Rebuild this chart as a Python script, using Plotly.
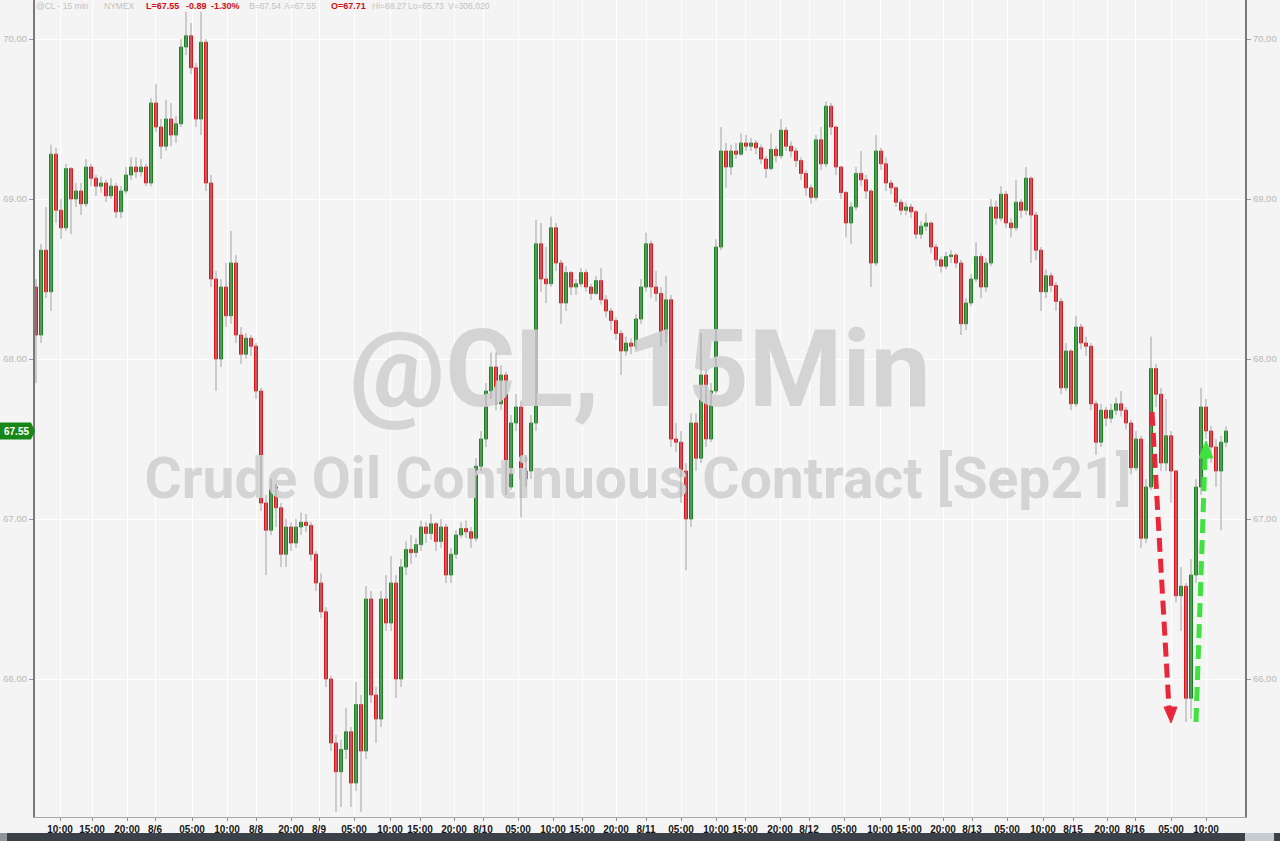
import plotly.graph_objects as go

# ---------------- data ----------------
first_open = 68.45
closes = [68.15, 68.68, 68.42, 69.28, 68.93, 68.82, 69.19, 69.00, 69.05, 68.97,
          69.20, 69.13, 69.08, 69.10, 69.02, 69.08, 68.92, 69.05, 69.15, 69.20,
          69.17, 69.20, 69.10, 69.60, 69.45, 69.33, 69.50, 69.40, 69.47, 69.95,
          70.02, 69.82, 69.50, 69.98, 69.10, 68.50, 68.00, 68.45, 68.27, 68.60,
          68.15, 68.03, 68.13, 68.08, 67.80, 67.10, 66.93, 67.20, 67.07, 66.78,
          66.95, 66.85, 66.95, 66.98, 66.96, 66.78, 66.60, 66.42, 66.00, 65.60,
          65.42, 65.56, 65.67, 65.35, 65.84, 65.55, 66.50, 65.90, 65.75, 66.50,
          66.35, 66.60, 66.00, 66.70, 66.81, 66.79, 66.84, 66.95, 66.91, 66.97,
          66.86, 66.95, 66.65, 66.78, 66.90, 66.94, 66.92, 66.88, 67.33, 67.50,
          67.80, 67.95, 67.72, 67.90, 67.20, 67.60, 67.70, 67.25, 67.30, 67.60,
          68.72, 68.50, 68.47, 68.82, 68.60, 68.35, 68.54, 68.45, 68.47, 68.54,
          68.45, 68.41, 68.49, 68.37, 68.30, 68.24, 68.16, 68.05, 68.10, 68.08,
          68.25, 68.45, 68.72, 68.45, 68.41, 68.15, 68.37, 67.50, 67.48, 67.30,
          67.00, 67.60, 67.38, 67.90, 67.50, 67.80, 68.70, 69.30, 69.20, 69.30,
          69.28, 69.35, 69.33, 69.35, 69.32, 69.25, 69.19, 69.31, 69.27, 69.43,
          69.33, 69.30, 69.24, 69.16, 69.07, 69.01, 69.37, 69.22, 69.58, 69.45,
          69.20, 69.04, 68.85, 68.95, 69.16, 69.12, 69.05, 68.60, 69.30, 69.22,
          69.10, 69.07, 68.98, 68.93, 68.95, 68.92, 68.78, 68.83, 68.85, 68.70,
          68.62, 68.58, 68.64, 68.65, 68.60, 68.22, 68.35, 68.50, 68.64, 68.45,
          68.60, 68.95, 68.88, 69.03, 68.85, 68.82, 68.98, 68.93, 69.13, 68.90,
          68.68, 68.42, 68.52, 68.46, 68.36, 67.82, 68.05, 67.72, 68.20, 68.10,
          68.08, 67.72, 67.48, 67.68, 67.63, 67.68, 67.72, 67.68, 67.60, 67.32,
          67.50, 66.88, 67.20, 67.94, 67.78, 67.35, 67.52, 67.30, 66.52, 66.58,
          65.88, 66.65, 67.20, 67.70, 67.55, 67.45, 67.30, 67.48, 67.55]
highs = [68.50, 68.72, 68.95, 69.34, 69.32, 69.00, 69.22, 69.20, 69.10, 69.10,
         69.25, 69.22, 69.15, 69.14, 69.12, 69.13, 69.10, 69.08, 69.20, 69.26,
         69.26, 69.25, 69.22, 69.63, 69.72, 69.50, 69.62, 69.60, 69.52, 70.00,
         70.17, 70.10, 69.85, 70.17, 70.00, 69.15, 68.55, 68.50, 68.60, 68.80,
         68.65, 68.20, 68.16, 68.15, 68.10, 67.82, 67.15, 67.25, 67.22, 67.10,
         67.00, 66.98, 67.00, 67.04, 67.03, 66.98, 66.80, 66.66, 66.45, 66.02,
         65.65, 65.62, 65.82, 65.70, 65.98, 65.90, 66.58, 66.55, 65.95, 66.55,
         66.65, 66.77, 66.65, 66.75, 66.86, 66.90, 66.88, 66.99, 66.98, 67.03,
         66.98, 67.00, 66.97, 66.82, 66.93, 66.98, 66.99, 66.95, 67.38, 67.55,
         67.85, 68.04, 68.04, 67.96, 67.92, 67.65, 67.78, 67.74, 67.40, 67.65,
         68.87, 68.85, 68.70, 68.89, 68.85, 68.62, 68.58, 68.55, 68.50, 68.57,
         68.56, 68.47, 68.52, 68.57, 68.40, 68.32, 68.26, 68.18, 68.14, 68.13,
         68.28, 68.50, 68.79, 68.74, 68.55, 68.45, 68.52, 68.40, 67.60, 67.55,
         67.35, 67.66, 67.66, 68.16, 67.93, 67.85, 68.75, 69.45, 69.35, 69.34,
         69.35, 69.41, 69.40, 69.38, 69.37, 69.34, 69.27, 69.41, 69.33, 69.50,
         69.45, 69.36, 69.32, 69.26, 69.18, 69.09, 69.40, 69.45, 69.61, 69.60,
         69.45, 69.20, 69.05, 68.98, 69.20, 69.30, 69.15, 69.06, 69.40, 69.32,
         69.26, 69.12, 69.08, 69.00, 68.98, 68.97, 68.93, 68.86, 68.91, 68.86,
         68.72, 68.64, 68.67, 68.68, 68.66, 68.62, 68.38, 68.53, 68.73, 68.66,
         68.63, 69.00, 68.99, 69.08, 69.05, 68.88, 69.12, 69.00, 69.20, 69.14,
         68.92, 68.70, 68.56, 68.54, 68.48, 68.38, 68.10, 68.06, 68.27, 68.22,
         68.14, 68.10, 67.74, 67.72, 67.70, 67.72, 67.76, 67.80, 67.70, 67.62,
         67.55, 67.52, 67.25, 68.14, 67.97, 67.82, 67.75, 67.55, 67.30, 66.70,
         66.60, 66.75, 67.25, 67.82, 67.75, 67.58, 67.50, 67.52, 67.58]
lows = [67.85, 68.10, 68.38, 68.30, 68.85, 68.75, 68.80, 68.78, 68.95, 68.90,
        68.95, 69.08, 69.02, 69.04, 68.98, 69.00, 68.88, 68.88, 69.03, 69.12,
        69.13, 69.14, 69.08, 69.08, 69.42, 69.25, 69.30, 69.33, 69.35, 69.45,
        69.90, 69.78, 69.45, 69.40, 69.05, 68.45, 67.80, 67.95, 68.20, 68.22,
        68.10, 67.97, 68.00, 68.02, 67.75, 67.05, 66.65, 66.90, 66.95, 66.70,
        66.70, 66.80, 66.82, 66.90, 66.92, 66.74, 66.55, 66.38, 65.95, 65.55,
        65.17, 65.20, 65.50, 65.20, 65.30, 65.17, 65.50, 65.85, 65.60, 65.70,
        66.30, 66.30, 65.88, 65.95, 66.65, 66.72, 66.76, 66.80, 66.85, 66.87,
        66.80, 66.82, 66.60, 66.60, 66.75, 66.88, 66.88, 66.82, 66.86, 67.30,
        67.45, 67.75, 67.68, 67.68, 67.15, 67.18, 67.55, 67.01, 67.20, 67.25,
        67.55, 68.42, 68.35, 68.45, 68.55, 68.22, 68.30, 68.40, 68.40, 68.45,
        68.42, 68.37, 68.40, 68.34, 68.26, 68.18, 68.12, 67.90, 68.02, 68.03,
        68.06, 68.22, 68.42, 68.38, 68.36, 68.08, 68.10, 67.45, 67.42, 67.10,
        66.68, 66.95, 67.30, 67.35, 67.45, 67.48, 67.78, 68.68, 69.07, 69.15,
        69.25, 69.27, 69.30, 69.30, 69.28, 69.22, 69.13, 69.18, 69.23, 69.25,
        69.30, 69.26, 69.20, 69.12, 69.02, 68.97, 68.99, 69.18, 69.20, 69.40,
        69.15, 69.00, 68.76, 68.72, 68.93, 69.08, 69.00, 68.45, 68.58, 69.18,
        69.05, 69.03, 68.95, 68.90, 68.90, 68.88, 68.75, 68.75, 68.80, 68.66,
        68.58, 68.54, 68.56, 68.60, 68.57, 68.15, 68.18, 68.33, 68.48, 68.38,
        68.42, 68.58, 68.84, 68.86, 68.82, 68.76, 68.80, 68.88, 68.90, 68.60,
        68.62, 68.30, 68.38, 68.42, 68.30, 67.78, 67.80, 67.68, 67.70, 68.06,
        68.02, 67.68, 67.40, 67.45, 67.58, 67.60, 67.65, 67.64, 67.56, 67.28,
        67.30, 66.82, 66.85, 67.18, 67.70, 67.30, 67.30, 67.10, 66.48, 66.30,
        65.73, 65.75, 66.60, 67.15, 67.50, 67.35, 67.20, 66.93, 67.45]

tick_labels = ["10:00", "15:00", "20:00", "8/6", "05:00", "10:00", "8/8", "20:00",
               "8/9", "05:00", "10:00", "15:00", "20:00", "8/10", "05:00", "10:00",
               "15:00", "20:00", "8/11", "05:00", "10:00", "15:00", "20:00", "8/12",
               "05:00", "10:00", "15:00", "20:00", "8/13", "05:00", "10:00", "8/15",
               "20:00", "8/16", "05:00", "10:00"]
price_ticks = [66, 67, 68, 69, 70]
header_parts = ["@CL - 15 min", "NYMEX", "L=67.55", "-0.89", "-1.30%", "B=67.54",
                "A=67.55", "O=67.71", "Hi=68.27", "Lo=65.73", "V=306,020"]

# ---------------- layout helpers ----------------
W, H = 1280, 841
L, R, T, B = 35, 35, 0, 24
PW, PH = W - L - R, H - T - B


def px_to_idx(px):
    return (px - 36) / 5.0


def py_to_price(py):
    return 70 - (py - 39) / 160.0


def px_paper(px):
    return (px - L) / PW


def py_paper(py):
    return (H - B - py) / PH


tick_px = [60, 92, 127, 155, 192, 227, 256, 291, 319, 354, 390, 420, 454, 483, 518,
           553, 582, 616, 646, 681, 716, 745, 780, 809, 844, 880, 909, 943, 972,
           1007, 1043, 1073, 1107, 1135, 1171, 1206]
tick_vals = [px_to_idx(p) for p in tick_px]

n = len(closes)
xs = list(range(n))
opens = [first_open] + closes[:-1]
body_hi = [max(o, c) for o, c in zip(opens, closes)]
body_lo = [min(o, c) for o, c in zip(opens, closes)]

wx, wy = [], []
for i in range(n):
    wx += [i, i, None]
    wy += [min(lows[i], body_lo[i]), max(highs[i], body_hi[i]), None]

BG = "#f4f4f4"
RED = "#e1121a"
GREEN = "#14861a"
WM = "#d4d4d4"
FONT = "Liberation Sans, Arial, sans-serif"

fig = go.Figure()

# watermark (drawn first, beneath the candles)
fig.add_trace(go.Scatter(
    x=[px_to_idx(640)], y=[py_to_price(379)], mode="text",
    text=["@CL, 15Min"], textposition="middle center",
    textfont=dict(family="Roboto, Open Sans, sans-serif", size=107, color=WM, weight="bold"),
    hoverinfo="skip", showlegend=False))
fig.add_trace(go.Scatter(
    x=[px_to_idx(638)], y=[py_to_price(484)], mode="text",
    text=["Crude Oil Continuous Contract [Sep21]"], textposition="middle center",
    textfont=dict(family="Roboto, Open Sans, sans-serif", size=57, color=WM, weight="bold"),
    hoverinfo="skip", showlegend=False))

# wicks
fig.add_trace(go.Scatter(x=wx, y=wy, mode="lines",
                         line=dict(color="#a2a2a2", width=1),
                         hoverinfo="skip", showlegend=False))

# bodies
fig.add_trace(go.Candlestick(
    x=xs, open=opens, high=body_hi, low=body_lo, close=closes,
    increasing=dict(line=dict(color=GREEN, width=1), fillcolor=GREEN),
    decreasing=dict(line=dict(color=RED, width=1), fillcolor=RED),
    whiskerwidth=0, showlegend=False))

# invisible trace for the right-hand price axis
fig.add_trace(go.Scatter(x=[xs[-1]], y=[closes[-1]], yaxis="y2", mode="markers",
                         marker=dict(opacity=0), hoverinfo="skip", showlegend=False))

yr = [py_to_price(H - B), py_to_price(0)]
xr = [px_to_idx(L), px_to_idx(W - R)]

shapes = []
annotations = []


def dashed_arrow(p0, p1, tip, base_a, base_b, color):
    shapes.append(dict(type="line", xref="x", yref="y",
                       x0=px_to_idx(p0[0]), y0=py_to_price(p0[1]),
                       x1=px_to_idx(p1[0]), y1=py_to_price(p1[1]),
                       line=dict(color=color, width=5, dash="14px,7px"), layer="above"))
    path = "M {} {} L {} {} L {} {} Z".format(
        px_to_idx(tip[0]), py_to_price(tip[1]),
        px_to_idx(base_a[0]), py_to_price(base_a[1]),
        px_to_idx(base_b[0]), py_to_price(base_b[1]))
    shapes.append(dict(type="path", xref="x", yref="y", path=path,
                       fillcolor=color, line=dict(color=color, width=1), layer="above"))


dashed_arrow((1152, 412), (1169, 708), (1171, 723), (1164, 707), (1177, 707), "#e8283a")
dashed_arrow((1196, 722), (1205, 458), (1206, 441), (1199, 458), (1213, 458), "#3fe23f")

# last price tag
lp = closes[-1]
half = 8.5 / 160.0
tag = "M {} {} L {} {} L {} {} L {} {} L {} {} Z".format(
    px_paper(0), lp + half, px_paper(31), lp + half, px_paper(35), lp,
    px_paper(31), lp - half, px_paper(0), lp - half)
shapes.append(dict(type="path", xref="paper", yref="y", path=tag,
                   fillcolor="#17871a", line=dict(width=0), layer="above"))
annotations.append(dict(xref="paper", yref="y", x=px_paper(16), y=lp,
                        text="<b>%.2f</b>" % lp, showarrow=False,
                        font=dict(family=FONT, size=10, color="white"),
                        xanchor="center", yanchor="middle"))

# bottom dark band (scroll bar)
shapes.append(dict(type="rect", xref="paper", yref="paper",
                   x0=px_paper(0), x1=px_paper(W), y0=py_paper(833), y1=py_paper(H),
                   fillcolor="#3a4149", line=dict(width=0), layer="above"))
shapes.append(dict(type="rect", xref="paper", yref="paper",
                   x0=px_paper(0), x1=px_paper(7), y0=py_paper(833), y1=py_paper(H),
                   fillcolor="#8e959d", line=dict(width=0), layer="above"))
shapes.append(dict(type="rect", xref="paper", yref="paper",
                   x0=px_paper(1245), x1=px_paper(1274), y0=py_paper(833), y1=py_paper(H),
                   fillcolor="#c7ccd3", line=dict(width=0), layer="above"))

# header text
header_px = [36, 104, 146, 186, 211, 249, 284, 331, 372, 408, 448]
header_red = [False, False, True, True, True, False, False, True, False, False, False]
for txt, hx, red in zip(header_parts, header_px, header_red):
    annotations.append(dict(
        xref="paper", yref="paper", x=px_paper(hx), y=py_paper(6),
        text=("<b>%s</b>" % txt) if red else txt, showarrow=False,
        xanchor="left", yanchor="middle", xshift=-2,
        font=dict(family=FONT, size=9 if red else 8.5,
                  color="#cc0f0f" if red else "#c2c2c2")))

fig.update_layout(
    width=W, height=H,
    margin=dict(l=L, r=R, t=T, b=B),
    paper_bgcolor=BG, plot_bgcolor=BG,
    showlegend=False, boxgap=0.15,
    shapes=shapes, annotations=annotations,
    xaxis=dict(range=xr, rangeslider=dict(visible=False), tickmode="array",
               tickvals=tick_vals, ticktext=tick_labels,
               showgrid=True, gridcolor="#ffffff", gridwidth=1,
               showline=True, linecolor="#a8a8a8", linewidth=1,
               ticks="outside", ticklen=3, tickcolor="#8a8a8a",
               tickfont=dict(family=FONT, size=10, color="#151515", weight="bold"),
               zeroline=False, fixedrange=True),
    yaxis=dict(range=yr, tickmode="array", tickvals=price_ticks,
               ticktext=["%.2f" % v for v in price_ticks],
               showgrid=True, gridcolor="#ffffff", gridwidth=1,
               showline=True, linecolor="#7a7a7a", linewidth=2,
               ticks="outside", ticklen=4, tickcolor="#9a9a9a",
               tickfont=dict(family=FONT, size=9.5, color="#b8b8b8"),
               zeroline=False, fixedrange=True),
    yaxis2=dict(range=yr, overlaying="y", side="right", tickmode="array",
                tickvals=price_ticks, ticktext=["%.2f" % v for v in price_ticks],
                showgrid=False, showline=True, linecolor="#7a7a7a", linewidth=2,
                ticks="outside", ticklen=4, tickcolor="#9a9a9a",
                tickfont=dict(family=FONT, size=9.5, color="#b8b8b8"),
                zeroline=False, fixedrange=True),
)

fig.write_html("out.html",
               config={"displayModeBar": False},
               post_script="document.body.style.margin='0px';"
                           "document.body.style.overflow='hidden';")
